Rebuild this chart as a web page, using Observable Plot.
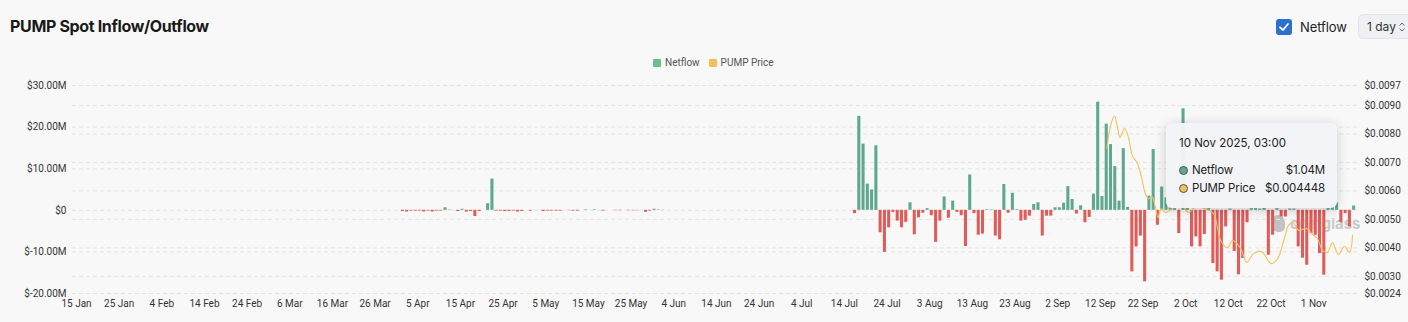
<!DOCTYPE html>
<html><head><meta charset="utf-8">
<script src="https://cdn.jsdelivr.net/npm/d3@7"></script>
<script src="https://cdn.jsdelivr.net/npm/@observablehq/plot@0.6"></script>
<style>
body{margin:0;background:#f8f8f8;font-family:Inter,Roboto,sans-serif;position:relative;width:1408px;height:322px;overflow:hidden}
#title{position:absolute;left:10px;top:16px;font:700 16px Inter,sans-serif;line-height:20px;color:#1a1a1a;letter-spacing:-0.35px}
#chk{position:absolute;left:1276px;top:19px;width:16px;height:16px;background:#2c6fd1;border-radius:3px}
#chkl{position:absolute;left:1300px;top:18px;font:400 13px Inter,sans-serif;line-height:18px;color:#222;letter-spacing:-0.1px}
#sel{position:absolute;left:1358px;top:14px;width:62px;height:25px;background:#eef0f3;border:1px solid #e1e4e8;border-radius:5px;box-sizing:border-box;font:400 12px Inter,sans-serif;line-height:23px;color:#333;padding-left:8px;white-space:nowrap}
#legend{position:absolute;left:653px;top:55px;display:flex;align-items:center;font:400 10px Roboto,sans-serif;color:#555;line-height:16px;white-space:nowrap}
#legend .sw{width:8px;height:8px;margin-right:4px;border-radius:1px}
#wm{position:absolute;left:1272px;top:214px;display:flex;align-items:center;color:#c9c9c9;font:700 15px Inter,sans-serif}
#wm .ic{width:13px;height:17px;background:#c2c2c2;border-radius:6px 7px 5px 6px;margin-right:5px}
#chart{position:absolute;left:0;top:74px}
#tip{position:absolute;left:1166px;top:123px;width:171px;height:85px;background:rgba(241,244,247,0.96);border-radius:6px;box-shadow:0 2px 12px rgba(0,0,0,0.18);font:400 12px Inter,sans-serif;color:#222;white-space:nowrap}
#tip .t{position:absolute;left:13px;top:13px;line-height:14px;font-size:11.5px}
#tip .r{position:absolute;left:13px;right:12px;display:flex;align-items:center;line-height:16px;font-size:11.5px;letter-spacing:-0.15px}
#tip .d{width:7px;height:7px;border-radius:50%;border:1px solid #555;margin-right:4px;flex:none}
#tip .v{margin-left:auto}
</style></head><body>
<div id="wm"><div class="ic"></div>coinglass</div>
<div id="chart"></div>
<div id="title">PUMP Spot Inflow/Outflow</div>
<div id="chk"><svg width="16" height="16"><path d="M4 8.3 L7 11 L12 5" fill="none" stroke="#fff" stroke-width="1.8" stroke-linecap="round" stroke-linejoin="round"/></svg></div>
<div id="chkl">Netflow</div>
<div id="sel">1 day <svg width="8" height="12" style="position:absolute;left:39px;top:6px"><path d="M1.5 4.5 L4 2 L6.5 4.5 M1.5 7.5 L4 10 L6.5 7.5" fill="none" stroke="#666" stroke-width="1"/></svg></div>
<div id="legend"><div class="sw" style="background:#6cbf8c"></div>Netflow<div class="sw" style="background:#f0c15a;margin-left:9px"></div>PUMP Price</div>
<div id="tip">
  <div class="t">10 Nov 2025, 03:00</div>
  <div class="r" style="top:39px"><div class="d" style="background:#5fa88f"></div>Netflow<span class="v">$1.04M</span></div>
  <div class="r" style="top:57px"><div class="d" style="background:#f0c15a"></div>PUMP Price<span class="v">$0.004448</span></div>
</div>
<script>
// Netflow (USD millions), consecutive daily values
const aprJunStart = "2025-04-01";
const aprJunNetflow = [-0.3,-0.4,-0.2,-0.2,-0.2,-0.4,-0.2,-0.4,-0.2,-0.2,
 0.6,0.1,0,-0.3,0.25,-0.4,-0.3,-1.5,-0.3,0,
 1.6,7.5,-0.2,-0.2,-0.3,-0.3,-0.2,-0.4,-0.3,0,
 -0.2,0,0,-0.3,-0.2,-0.2,-0.2,-0.2,0,-0.1,
 -0.2,-0.2,0,0.1,0,0.15,0,-0.2,0,0,
 -0.1,-0.1,0,-0.1,-0.1,-0.1,0,-0.5,-0.2,0.25,
 0.1,0.05];
const julNovStart = "2025-07-16";
const julNovNetflow = [-0.8,22.6,15.9,6.3,4.9,15.5,-5.4,-10.1,-4.2,-0.5,
 -2.6,-4.2,-2.9,1.8,-5.9,-1.8,-0.7,0.4,-1.3,-7.7,
 -2.6,3.2,-1.9,2.2,-0.5,-1.3,-8.7,8.5,-0.8,-6.0,
 -5.7,0.15,0.1,-6.2,-7.1,6.2,-0.7,4.1,0.15,-2.6,
 -2.4,-1.4,1.4,1.8,-6.2,-1.4,-1.4,0.6,0.6,1.7,
 5.7,2.6,-0.9,1.1,-3.0,-1.7,3.9,26.0,3.3,20.7,
 15.8,10.5,2.2,14.8,0.7,-14.8,-8.8,-6.2,-17.2,3.4,
 14.6,-3.6,5.6,3.0,0.6,0.5,-5.6,24.4,0.5,-8.8,
 -6.4,-8.8,-5.8,0.4,-12.8,-14.8,-16.8,-4.0,0.3,-9.9,
 -15.5,-11.6,-3.0,0.4,0.4,0.3,0.5,-10.8,-6.0,0.4,
 -1.6,-1.6,0.3,0.3,-8.8,-11.5,-13.2,-5.6,-6.0,-10.4,
 -15.6,0.6,1.2,1.8,-3.0,-0.8,-4.0,1.04];

// PUMP price (USD)
const priceTimes = ["2025-09-13T13:00","2025-09-14T10:00","2025-09-15T07:00","2025-09-16T00:00","2025-09-16T14:00","2025-09-17T17:00","2025-09-18T14:00","2025-09-19T12:00","2025-09-20T17:00","2025-09-21T22:00",
 "2025-09-22T14:00","2025-09-23T07:00","2025-09-24T02:00","2025-09-24T22:00","2025-09-25T12:00","2025-09-26T07:00","2025-09-27T07:00","2025-09-28T22:00","2025-09-30T19:00","2025-10-02T17:00",
 "2025-10-04T12:00","2025-10-06T10:00","2025-10-08T12:00","2025-10-10T05:00","2025-10-11T19:00","2025-10-13T00:00","2025-10-14T22:00","2025-10-16T07:00","2025-10-17T22:00","2025-10-19T19:00",
 "2025-10-22T00:00","2025-10-23T14:00","2025-10-25T00:00","2025-10-26T05:00","2025-10-27T05:00","2025-10-28T12:00","2025-10-30T07:00","2025-10-31T19:00","2025-11-01T22:00","2025-11-03T02:00",
 "2025-11-04T05:00","2025-11-05T10:00","2025-11-06T19:00","2025-11-08T05:00","2025-11-09T10:00","2025-11-10T03:00"];
const priceValues = [0.00749,0.00830,0.00863,0.00826,0.00788,0.00819,0.00788,0.00724,0.00696,0.00630,
 0.00588,0.00573,0.00580,0.00542,0.00507,0.00538,0.00524,0.00538,0.00552,0.00524,
 0.00545,0.00538,0.00521,0.00426,0.00401,0.00426,0.00398,0.00349,0.00380,0.00387,
 0.00345,0.00363,0.00426,0.00482,0.00489,0.00461,0.00468,0.00447,0.00433,0.00391,
 0.00384,0.00419,0.00377,0.00405,0.00384,0.004448];

// Axis ticks
const leftTicks = [-20e6,-10e6,0,10e6,20e6,30e6];
const rightTicks = [0.0024,0.003,0.004,0.005,0.006,0.007,0.008,0.009,0.0097];
const xTickLabels = ["2025-01-15","2025-01-25","2025-02-04","2025-02-14","2025-02-24","2025-03-06","2025-03-16","2025-03-26","2025-04-05","2025-04-15","2025-04-25","2025-05-05","2025-05-15","2025-05-25","2025-06-04","2025-06-14","2025-06-24","2025-07-04","2025-07-14","2025-07-24","2025-08-03","2025-08-13","2025-08-23","2025-09-02","2025-09-12","2025-09-22","2025-10-02","2025-10-12","2025-10-22","2025-11-01"];

const green = "#5fa88f", red = "#e15b59", yellow = "#f2c25c";
const pMin = 0.0024, pMax = 0.0097, yMin = -20e6, yMax = 30e6;
const toY = p => yMin + (p - pMin) / (pMax - pMin) * (yMax - yMin);
const fromY = v => pMin + (v - yMin) / (yMax - yMin) * (pMax - pMin);

const bars = [];
const addSeries = (start, vals) => vals.forEach((v, i) => bars.push({date: d3.utcDay.offset(new Date(start + "T00:00Z"), i), value: v * 1e6}));
addSeries(aprJunStart, aprJunNetflow);
addSeries(julNovStart, julNovNetflow);
const price = priceTimes.map((t, i) => ({date: new Date(t + "Z"), price: priceValues[i]}));
const xTicks = xTickLabels.map(s => new Date(s + "T00:00Z"));

const fmtM = d => d === 0 ? "$0" : "$" + (d / 1e6).toFixed(2) + "M";
const grid = {stroke: "#e4e4e4", strokeOpacity: 1, strokeDasharray: "4,3"};

const chart = Plot.plot({
  width: 1408, height: 248,
  marginTop: 11, marginBottom: 29, marginLeft: 72, marginRight: 51,
  style: {background: "transparent", fontFamily: "Roboto, sans-serif", fontSize: "10px", color: "#333", overflow: "visible"},
  x: {type: "utc", domain: [new Date("2025-01-14T01:30Z"), new Date("2025-11-11T06:45Z")]},
  y: {domain: [yMin, yMax]},
  marks: [
    Plot.gridY(leftTicks, grid),
    Plot.gridY(rightTicks.map(toY), grid),
    Plot.rectY(bars, {x: "date", y: "value", interval: "day", fill: d => d.value >= 0 ? green : red, insetLeft: 0.6, insetRight: 0.6}),
    Plot.line(price, {x: "date", y: d => toY(d.price), stroke: yellow, strokeWidth: 1.1, curve: "catmull-rom"}),
    Plot.axisY(leftTicks, {anchor: "left", tickSize: 0, tickPadding: 6, tickFormat: fmtM, label: null, fill: "#333"}),
    Plot.axisY(rightTicks.map(toY), {anchor: "right", tickSize: 0, tickPadding: 7, tickFormat: v => "$" + fromY(v).toFixed(4), label: null, fill: "#333"}),
    Plot.axisX(xTicks, {anchor: "bottom", tickSize: 0, tickPadding: 6, tickFormat: d3.utcFormat("%-d %b"), label: null, fill: "#333"})
  ]
});
document.getElementById("chart").appendChild(chart);
</script>
</body></html>
